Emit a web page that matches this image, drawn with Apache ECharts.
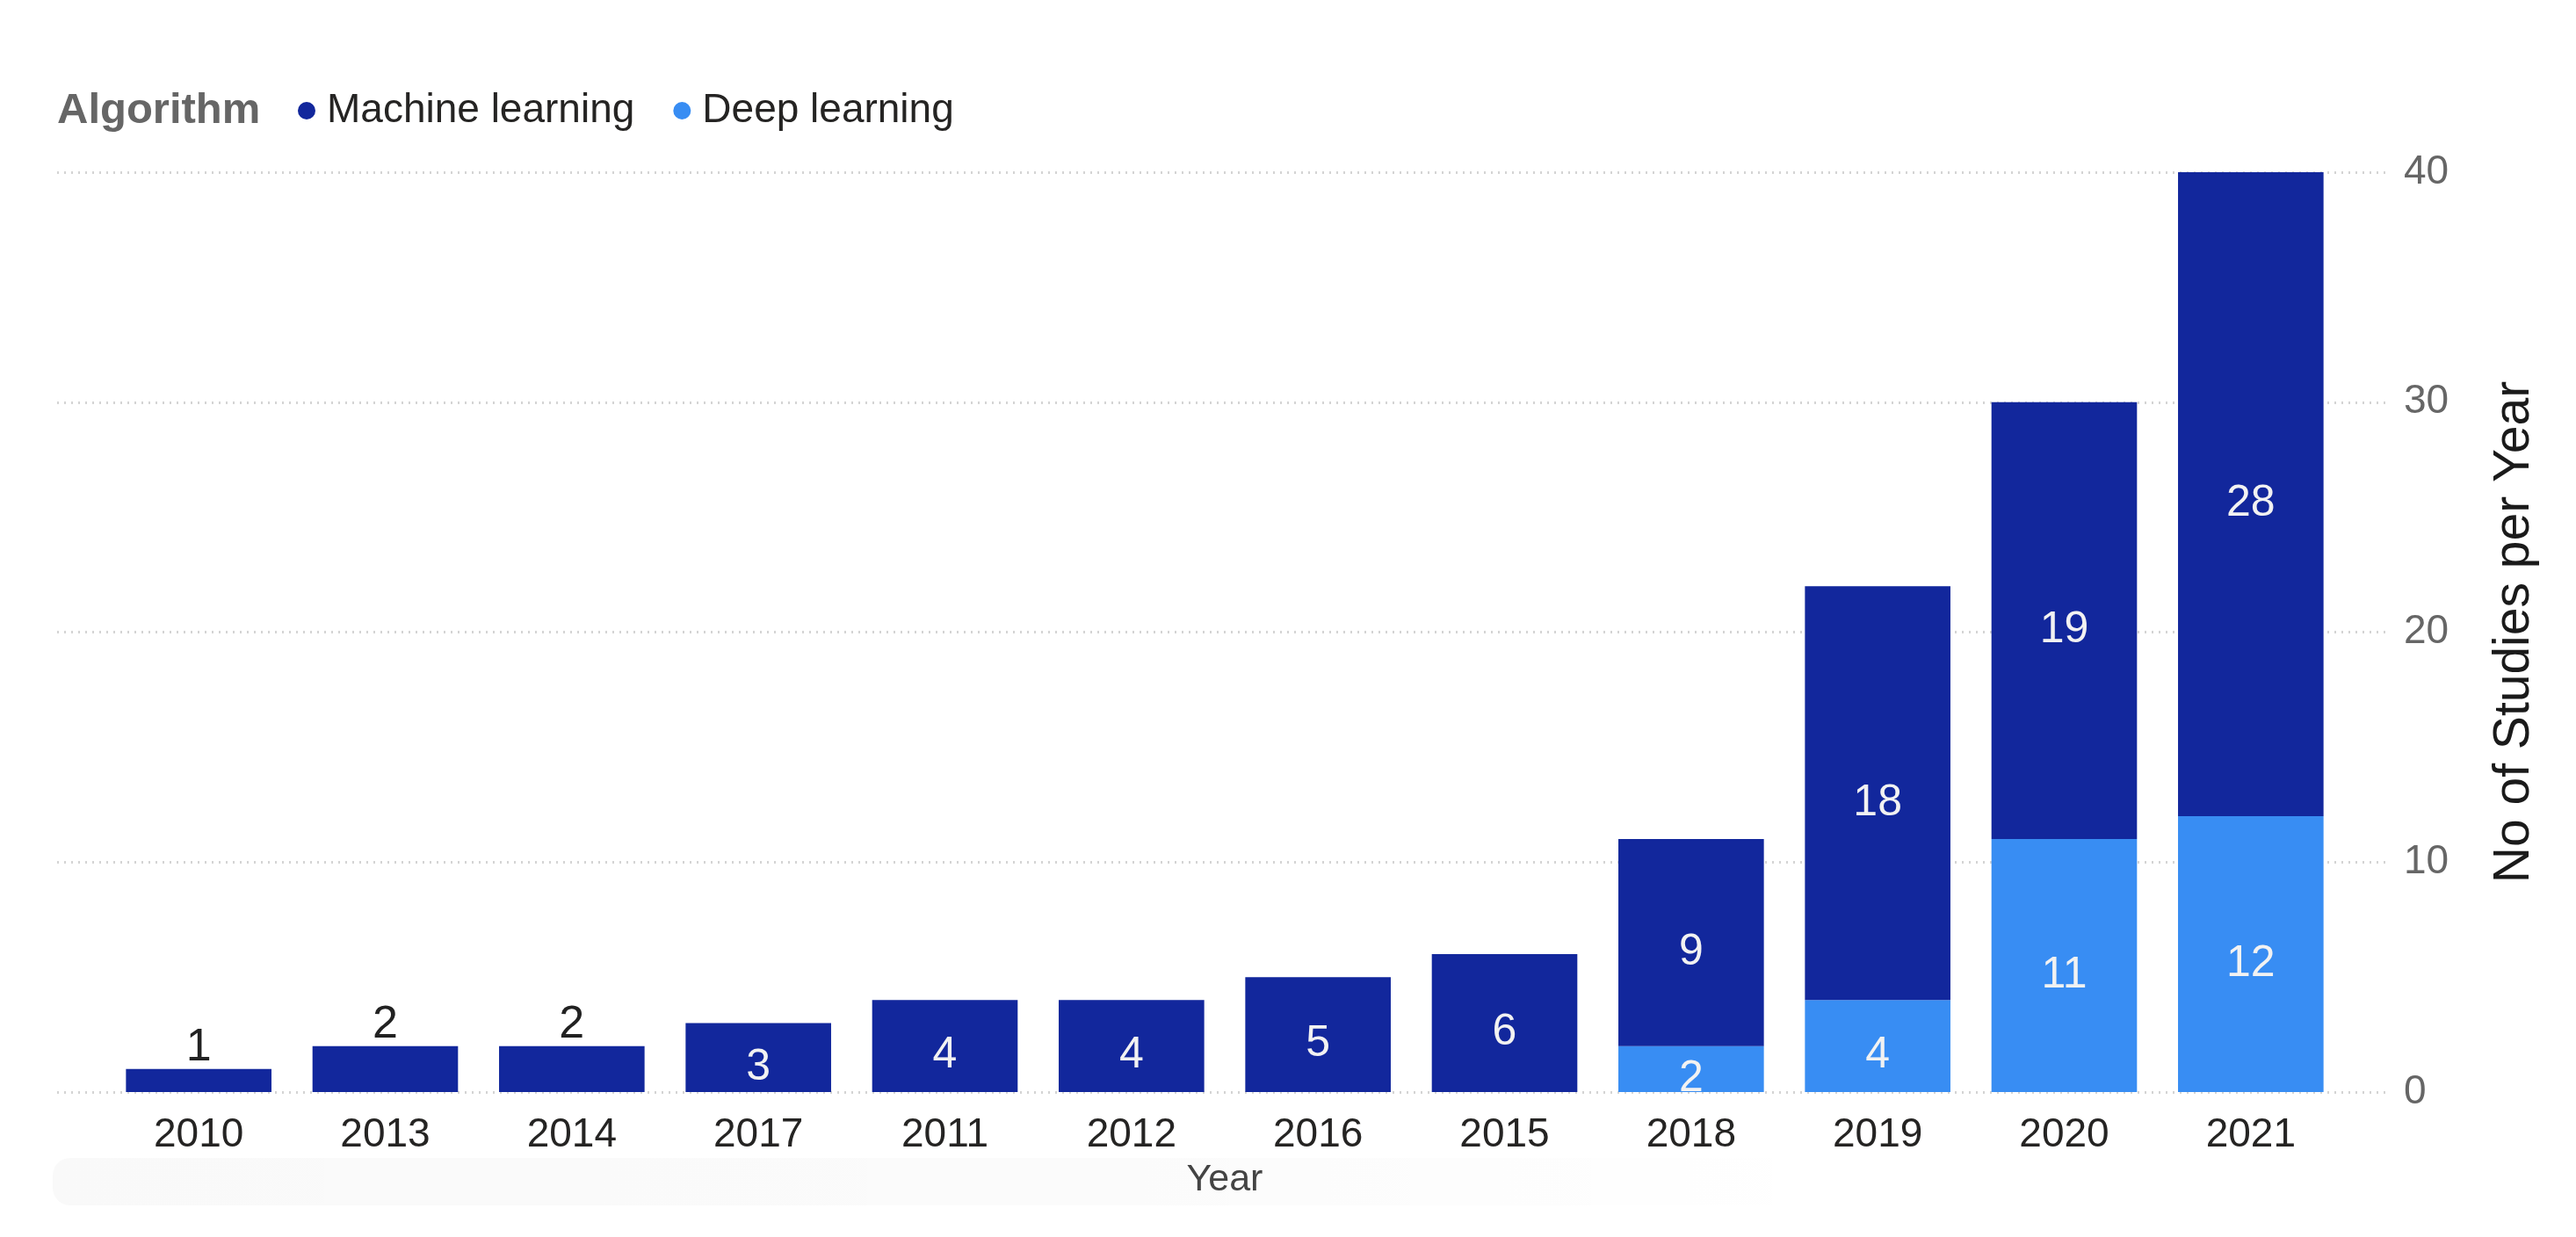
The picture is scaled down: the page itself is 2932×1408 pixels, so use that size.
<!DOCTYPE html>
<html>
<head>
<meta charset="utf-8">
<script src="https://cdn.jsdelivr.net/npm/echarts@6/dist/echarts.min.js"></script>
<style>
html,body{margin:0;padding:0;background:#ffffff;}
#chart{width:2932px;height:1408px;}
</style>
</head>
<body>
<div id="chart"></div>
<script>
// ---- data ----
const years = ['2010','2013','2014','2017','2011','2012','2016','2015','2018','2019','2020','2021'];
const machineLearning = [1, 2, 2, 3, 4, 4, 5, 6, 9, 18, 19, 28];
const deepLearning = [null, null, null, null, null, null, null, null, 2, 4, 11, 12];
const seriesNames = ['Machine learning', 'Deep learning'];
const yMin = 0, yMax = 40, yStep = 10;

// ---- styling ----
const FONT = "'Liberation Sans', Arial, sans-serif";
const ML_COLOR = '#12279C';
const DL_COLOR = '#388DF3';

const chart = echarts.init(document.getElementById('chart'), null, {renderer: 'canvas'});

const mlData = machineLearning.map((v, i) => {
  if (v != null && v < 3 && deepLearning[i] == null) {
    return {value: v, label: {position: 'top', color: '#222222', fontSize: 52, distance: 0, offset: [0, 2]}};
  }
  return v;
});

const insideLabel = {show: true, position: 'inside', offset: [0, 11], color: '#f2f2f2', fontSize: 50, fontFamily: FONT};

const option = {
  animation: false,
  backgroundColor: '#ffffff',
  textStyle: {fontFamily: FONT},
  title: {
    text: 'Algorithm',
    left: 60, top: 97,
    textStyle: {fontSize: 49, fontWeight: 'bold', color: '#666666', fontFamily: FONT}
  },
  legend: {
    left: 334, top: 98,
    icon: 'circle',
    itemWidth: 20, itemHeight: 20,
    itemGap: 44,
    data: seriesNames,
    textStyle: {fontSize: 46, color: '#252423', fontFamily: FONT, padding: [0, 0, 0, 8]}
  },
  graphic: [{
    type: 'rect', silent: true, z: -1,
    shape: {x: 60, y: 1318, width: 2060, height: 54, r: 20},
    style: {
      fill: new echarts.graphic.LinearGradient(0, 0, 1, 0, [
        {offset: 0, color: 'rgba(0,0,0,0.022)'},
        {offset: 0.6, color: 'rgba(0,0,0,0.015)'},
        {offset: 1, color: 'rgba(0,0,0,0)'}
      ]),
      shadowBlur: 24,
      shadowColor: 'rgba(0,0,0,0.03)'
    }
  }],
  grid: [
    {left: 120, right: 264, top: 196, bottom: 165},
    {left: 65, right: 212, top: 196, bottom: 165}
  ],
  xAxis: [
    {
      type: 'category', data: years, gridIndex: 0,
      axisLine: {show: false}, axisTick: {show: false},
      axisLabel: {fontSize: 46, color: '#252423', margin: 26, fontFamily: FONT},
      name: 'Year', nameLocation: 'middle', nameGap: 79,
      nameTextStyle: {fontSize: 43, color: '#444444', fontFamily: FONT}
    },
    {type: 'category', data: years, gridIndex: 1, show: false}
  ],
  yAxis: [
    {
      type: 'value', gridIndex: 0, position: 'right',
      min: yMin, max: yMax, interval: yStep,
      splitLine: {show: false}, axisLine: {show: false}, axisTick: {show: false},
      axisLabel: {fontSize: 46, color: '#666666', margin: 68, fontFamily: FONT},
      name: 'No of Studies per Year', nameLocation: 'middle', nameRotate: 90, nameGap: 166,
      nameTextStyle: {fontSize: 57, color: '#1a1a1a', fontFamily: FONT}
    },
    {
      type: 'value', gridIndex: 1,
      min: yMin, max: yMax, interval: yStep,
      axisLabel: {show: false}, axisLine: {show: false}, axisTick: {show: false},
      splitLine: {show: true, lineStyle: {type: [2, 6], color: '#d4d4d4', width: 3}}
    }
  ],
  series: [
    {
      name: 'Deep learning', type: 'bar', stack: 'total',
      xAxisIndex: 0, yAxisIndex: 0,
      data: deepLearning, barWidth: '78%',
      itemStyle: {color: DL_COLOR},
      label: insideLabel
    },
    {
      name: 'Machine learning', type: 'bar', stack: 'total',
      xAxisIndex: 0, yAxisIndex: 0,
      data: mlData, barWidth: '78%',
      itemStyle: {color: ML_COLOR},
      label: insideLabel
    }
  ]
};
chart.setOption(option);
</script>
</body>
</html>
